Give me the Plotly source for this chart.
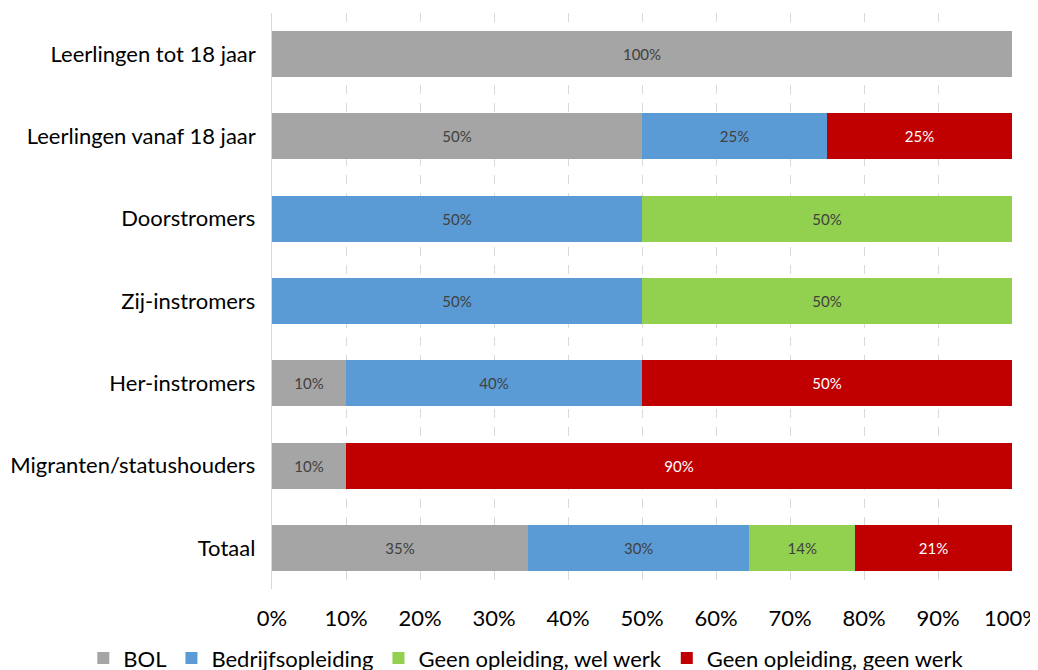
import plotly.graph_objects as go

categories = ["Leerlingen tot 18 jaar", "Leerlingen vanaf 18 jaar", "Doorstromers",
              "Zij-instromers", "Her-instromers", "Migranten/statushouders", "Totaal"]
series_names = ["BOL", "Bedrijfsopleiding", "Geen opleiding, wel werk", "Geen opleiding, geen werk"]
bol = [100, 50, None, None, 10, 10, 34.6]
bedrijf = [None, 25, 50, 50, 40, None, 29.9]
wel_werk = [None, None, 50, 50, None, None, 14.3]
geen_werk = [None, 25, None, None, 50, 90, 21.2]
colors = ["#A5A5A5", "#5B9BD5", "#92D050", "#C00000"]
text_colors = ["#404040", "#404040", "#404040", "#FFFFFF"]
x_ticks = [0, 10, 20, 30, 40, 50, 60, 70, 80, 90, 100]

FONT = "Lato, Carlito, Calibri, sans-serif"

fig = go.Figure()
for name, vals, c, tc in zip(series_names, [bol, bedrijf, wel_werk, geen_werk], colors, text_colors):
    fig.add_trace(go.Bar(
        y=categories, x=[v / 100 if v is not None else None for v in vals],
        name=name, orientation="h", marker=dict(color=c, line=dict(width=0)),
        texttemplate="%{x:.0%}", textposition="inside", insidetextanchor="middle",
        textangle=0, textfont=dict(size=15, color=tc, family=FONT),
        hoverinfo="skip",
    ))

fig.update_layout(
    barmode="stack", bargap=0.44,
    width=1038, height=690,
    margin=dict(l=264, r=34, t=5, b=109),
    paper_bgcolor="white", plot_bgcolor="white",
    font=dict(family=FONT, size=22, color="#000000"),
    xaxis=dict(range=[0, 1], tickvals=[t / 100 for t in x_ticks], ticktext=[f"{t}%" for t in x_ticks],
               showgrid=True, gridcolor="#D9D9D9", griddash="dash", gridwidth=1,
               zeroline=False, showline=False, ticks="", tickfont=dict(size=22, color="#000000"),
               ticklabelstandoff=14, ticklabeloverflow="allow",
               automargin=False, fixedrange=True),
    yaxis=dict(categoryorder="array", categoryarray=categories, autorange="reversed",
               showline=True, linecolor="#D9D9D9", linewidth=1, ticks="",
               ticksuffix="  ", tickfont=dict(size=22, color="#000000"), showgrid=False,
               automargin=False),
    legend=dict(orientation="h", xref="paper", x=-0.255, xanchor="left",
                yref="paper", y=-0.12, yanchor="middle",
                font=dict(size=22, color="#000000"), traceorder="normal"),
    showlegend=True,
)

fig.write_html("out.html")
